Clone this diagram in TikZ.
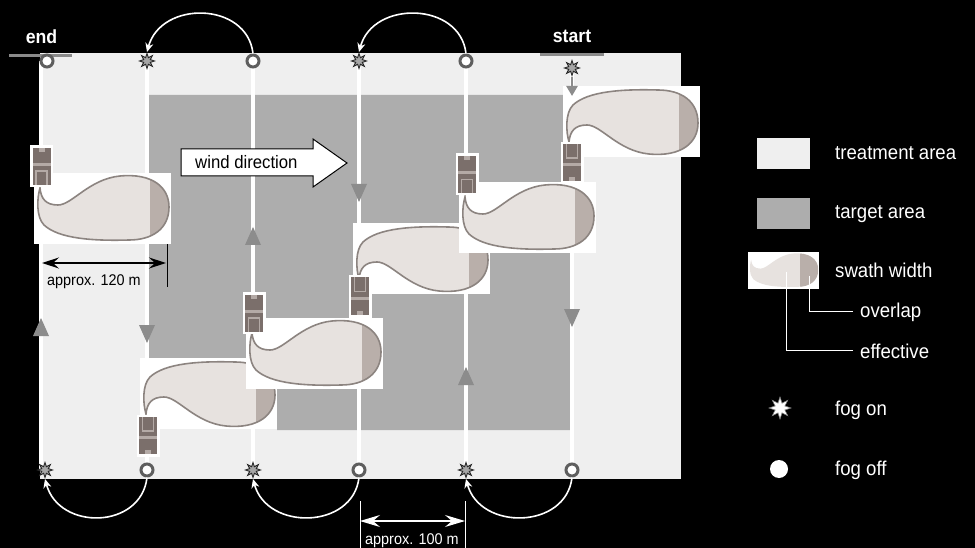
\documentclass[tikz,border=0pt]{standalone}
\usepackage{fontspec}
\setmainfont{Liberation Sans}[FakeStretch=0.93]
\usetikzlibrary{arrows.meta,shapes.geometric}

\definecolor{treatgray}{HTML}{EFEFEF}
\definecolor{targetgray}{HTML}{ADADAD}
\definecolor{markgray}{HTML}{5E5E5E}
\definecolor{dirgray}{HTML}{8C8C8C}
\definecolor{bargray}{HTML}{8A8A8A}
\definecolor{plumecol}{HTML}{E7E2DF}
\definecolor{plumeedge}{HTML}{8C8480}
\definecolor{overlapcol}{HTML}{B9AFAA}
\definecolor{tractordark}{HTML}{7B6F6B}
\definecolor{tractorlight}{HTML}{B4AAA6}

\newcommand{\plumepath}{(6,15) .. controls (7,26) and (12,32) .. (24,32)
  .. controls (38,32) and (55,6) .. (86,3)
  .. controls (118,0) and (135,14) .. (135,34)
  .. controls (135,56) and (118,67) .. (95,67)
  .. controls (60,68) and (25,66) .. (10,52)
  .. controls (2,44) and (3,25) .. cycle}

\tikzset{
  fogon/.style={star, star points=8, star point ratio=2.1, minimum size=15pt,
    inner sep=0pt, fill=black!35, draw=black!85, line width=0.9pt},
  fogoff/.style={circle, minimum size=12pt, inner sep=0pt, fill=white,
    draw=markgray, line width=3pt},
  track/.style={white, line width=3.5pt},
  uturn/.style={white, line width=1.6pt, -{Stealth[length=9pt,width=8pt]}},
  bar/.style={bargray, line width=3pt},
  plumeline/.style={draw=plumeedge, line width=1.6pt},
  lbl/.style={font=\fontsize{20}{24}\selectfont, text=white, anchor=base west, inner sep=0pt},
  marklbl/.style={font=\bfseries\fontsize{19}{22}\selectfont, text=white, anchor=base, inner sep=0pt},
  dimlbl/.style={font=\fontsize{15.5}{18}\selectfont, anchor=base west, inner sep=0pt},
  leader/.style={white, line width=1pt},
  swath/.pic={
    \fill[white] (0,0) rectangle (137,71);
    \fill[plumecol] \plumepath;
    \begin{scope}
      \clip \plumepath;
      \fill[overlapcol] (#1,0) rectangle (137,71);
    \end{scope}
    \path[plumeline] \plumepath;
  },
  tractor/.pic={
    \fill[white] (-11.5,-21) rectangle (11.5,21);
    \fill[tractordark] (-9,-18) rectangle (9,19);
    \fill[tractorlight] (-3,-18) rectangle (3,-14);
    \fill[tractorlight] (-9,-3) rectangle (9,0);
    \draw[tractorlight, line width=1.5pt] (-5.5,19) -- (-5.5,5) -- (5.5,5) -- (5.5,19);
  },
  dirmark/.pic={
    \fill[dirgray] (0,0) -- (8,18) -- (-8,18) -- cycle;
  },
}

\begin{document}
\begin{tikzpicture}[x=1pt, y=-1pt]
  \fill[black] (0,0) rectangle (975,548);
  \useasboundingbox (0,0) rectangle (975,548);

  \fill[treatgray] (40,53) rectangle (681,479);
  \fill[targetgray] (148,95) -- (570,95) -- (570,430) -- (277,430) -- (277,358) -- (148,358) -- cycle;

  \coordinate (T1) at (41,61);
  \coordinate (T2) at (147,61);
  \coordinate (T3) at (253,61);
  \coordinate (T4) at (359,61);
  \coordinate (T5) at (466,61);
  \coordinate (T6) at (572,68);
  \coordinate (B1) at (41,470);
  \coordinate (B2) at (147,470);
  \coordinate (B3) at (253,470);
  \coordinate (B4) at (359,470);
  \coordinate (B5) at (466,470);
  \coordinate (B6) at (572,470);

  \draw[track] (T1) -- (B1);
  \draw[track] (T2) -- (B2);
  \draw[track] (T3) -- (B3);
  \draw[track] (T4) -- (B4);
  \draw[track] (T5) -- (B5);
  \draw[track] (T6) -- (B6);

  \filldraw[fill=white, draw=black, line width=1pt] (181,149) -- (313,149) -- (313,139) -- (347,163)
    -- (313,187) -- (313,176) -- (181,176) -- cycle;
  \node[dimlbl, font=\fontsize{18}{22}\selectfont] (wind) at (195,169) {wind direction};

  \pic at (41,318) {dirmark};
  \pic[yscale=-1] at (147,343) {dirmark};
  \pic at (253,227) {dirmark};
  \pic[yscale=-1] at (359,202) {dirmark};
  \pic at (466,367) {dirmark};
  \pic[yscale=-1] at (572,327) {dirmark};

  \coordinate (w0) at (42,263);
  \coordinate (w1) at (166,263);
  \draw[black, line width=1.5pt, {Stealth[length=17pt,width=11pt,inset=6pt]}-{Stealth[length=17pt,width=11pt,inset=6pt]}] (w0) -- (w1);
  \draw[black, line width=0.8pt] (167,238) -- (167,287);
  \node[dimlbl] (w120) at (47,286) {approx. 120 m};

  \pic at (34,173) {swath=116};
  \pic[yscale=-1] at (140,429) {swath=116};
  \pic at (246,318) {swath=116};
  \pic[yscale=-1] at (353,294) {swath=116};
  \pic at (459,182) {swath=116};
  \pic[yscale=-1] at (563,157) {swath=116};

  \pic at (41.5,166) {tractor};
  \pic[yscale=-1] at (148,436) {tractor};
  \pic at (254,313) {tractor};
  \pic[yscale=-1] at (360,296.5) {tractor};
  \pic at (467,174.5) {tractor};
  \pic[yscale=-1] at (572,163) {tractor};

  \draw[bar] (9,55.5) -- (72,55.5);
  \draw[bar] (540,55) -- (604,55);

  \node[fogoff] (top1) at (47,61) {};
  \node[fogon] (top2) at (T2) {};
  \node[fogoff] (top3) at (T3) {};
  \node[fogon] (top4) at (T4) {};
  \node[fogoff] (top5) at (T5) {};
  \node[fogon] (top6) at (T6) {};
  \node[fogon] (bot1) at (45,470) {};
  \node[fogoff] (bot2) at (B2) {};
  \node[fogon] (bot3) at (B3) {};
  \node[fogoff] (bot4) at (B4) {};
  \node[fogon] (bot5) at (B5) {};
  \node[fogoff] (bot6) at (B6) {};

  \draw[uturn] (top3.north) .. controls +(-6,-52) and +(14,-52) .. (top2.north);
  \draw[uturn] (top5.north) .. controls +(-6,-52) and +(14,-52) .. (top4.north);
  \draw[uturn] (bot2.south) .. controls +(-6,52) and +(14,52) .. (bot1.south);
  \draw[uturn] (bot4.south) .. controls +(-6,52) and +(14,52) .. (bot3.south);
  \draw[uturn] (bot6.south) .. controls +(-6,52) and +(14,52) .. (bot5.south);

  \coordinate (firstpass) at (572,96);
  \draw[dirgray, line width=2.5pt, -{Triangle[width=11pt,length=10pt]}] (top6.south) -- (firstpass);

  \node[marklbl] (endlbl) at (41.5,44) {end};
  \node[marklbl] (startlbl) at (572,43) {start};

  \coordinate (h0) at (360,521);
  \coordinate (h1) at (465,521);
  \draw[white, line width=1.2pt, {Stealth[length=20pt,width=12pt,inset=7pt]}-{Stealth[length=20pt,width=12pt,inset=7pt]}] (h0) -- (h1);
  \draw[white, line width=0.8pt] (360,501) -- (360,548);
  \draw[white, line width=0.8pt] (465,501) -- (465,548);
  \node[dimlbl, text=white] (w100) at (365,544) {approx. 100 m};

  \fill[treatgray] (757,138) rectangle (810,169);
  \node[lbl] (lbltreat) at (835,160) {treatment area};
  \fill[targetgray] (757,198) rectangle (810,229);
  \node[lbl] (lbltarget) at (835,219) {target area};
  \pic[scale=0.52, plumeline/.style={draw=none}] at (748,252) {swath=100};
  \node[lbl] (lblswath) at (835,278) {swath width};
  \node[lbl] (lbloverlap) at (860,317) {overlap};
  \node[lbl] (lbleffective) at (860,358) {effective};
  \coordinate (ovl) at (809,276);
  \coordinate (eff) at (786,272);
  \draw[leader] (ovl) |- ([xshift=-7pt]lbloverlap.west);
  \draw[leader] (eff) |- ([xshift=-7pt]lbleffective.west);
  \node[fogon, minimum size=22pt, fill=white, draw=black!50, line width=0.6pt] (legon) at (780,408) {};
  \node[lbl] (lblon) at (835,415) {fog on};
  \node[circle, fill=white, minimum size=18pt, inner sep=0pt] (legoff) at (779,469) {};
  \node[lbl] (lbloff) at (835,475) {fog off};
\end{tikzpicture}
\end{document}
